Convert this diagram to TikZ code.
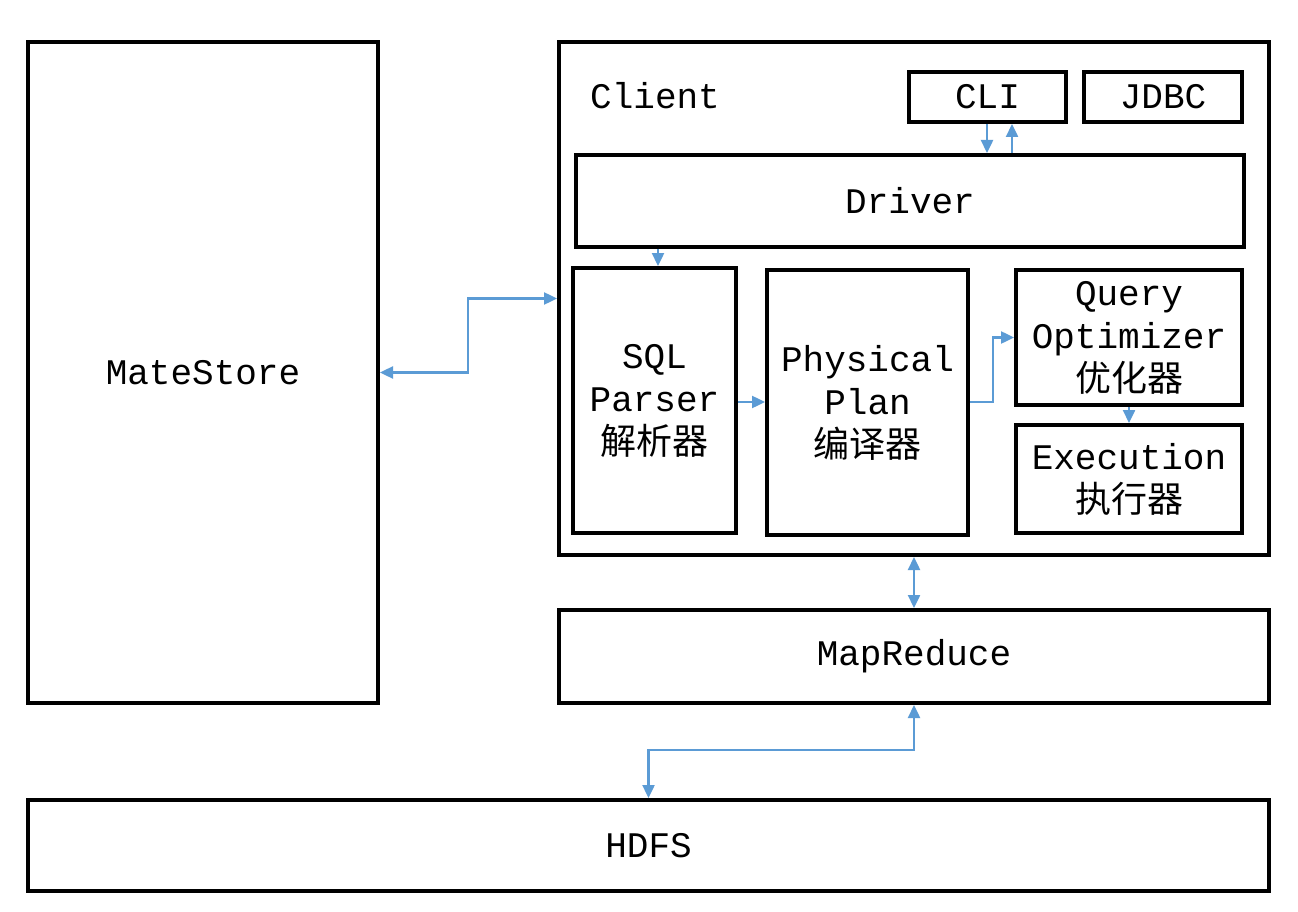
\documentclass[tikz,border=0pt]{standalone}
\usepackage{fontspec}
\newfontfamily\mono{Liberation Mono}
\newfontfamily\cjk{Noto Sans CJK SC}
\usetikzlibrary{arrows.meta}
\definecolor{arrblue}{RGB}{91,155,213}
\begin{document}
\begin{tikzpicture}[x=1pt,y=-1pt,
  box/.style={draw=black,line width=4pt,inner sep=0pt,align=center,
    font=\mono\fontsize{36}{43}\selectfont},
  lbl/.style={inner sep=0pt,font=\mono\fontsize{36}{43}\selectfont},
  arr/.style={draw=arrblue,line width=2.4pt,-{Triangle[length=13pt,width=12pt]}},
  darr/.style={draw=arrblue,line width=2.4pt,{Triangle[length=13pt,width=12pt]}-{Triangle[length=13pt,width=12pt]}}]
\useasboundingbox (0,0) rectangle (1298,912);
\fill[white] (0,0) rectangle (1298,912);
% boxes
\node[box,minimum width=350pt,minimum height=661pt] (MateStore) at (203,372.5) {MateStore};
\node[box,minimum width=710pt,minimum height=513pt] (Client) at (914,298.5) {};
\node[lbl,anchor=west] (ClientLabel) at (590,95.5) {Client};
\node[box,minimum width=157pt,minimum height=50pt] (CLI) at (987.5,97) {CLI};
\node[box,minimum width=158pt,minimum height=50pt] (JDBC) at (1163,97) {JDBC};
\node[box,minimum width=668pt,minimum height=92pt] (Driver) at (910,201) {Driver};
\node[box,minimum width=163pt,minimum height=265pt] (SQL) at (654.5,400.5) {SQL\\Parser\\{\cjk 解析器}};
\node[box,minimum width=201pt,minimum height=265pt] (Physical) at (867.5,402.5) {Physical\\Plan\\{\cjk 编译器}};
\node[box,minimum width=226pt,minimum height=135pt] (Query) at (1129,337.5) {Query\\Optimizer\\{\cjk 优化器}};
\node[box,minimum width=226pt,minimum height=108pt] (Execution) at (1129,479) {Execution\\{\cjk 执行器}};
\node[box,minimum width=710pt,minimum height=93pt] (MapReduce) at (914,656.5) {MapReduce};
\node[box,minimum width=1241pt,minimum height=91pt] (HDFS) at (648.5,845.5) {HDFS};
% helper coordinates
\coordinate (xdown) at (987,0);
\coordinate (xup) at (1012,0);
\coordinate (xsql) at (658,0);
\coordinate (ysp) at (0,402);
% connectors
\draw[arr] (CLI.south -| xdown) -- (Driver.north -| xdown);
\draw[arr] (Driver.north -| xup) -- (CLI.south -| xup);
\draw[arr] (Driver.south -| xsql) -- (SQL.north -| xsql);
\draw[darr] (MateStore.east) -- (468,372.5) |- (Client.west);
\draw[arr] (SQL.east |- ysp) -- (Physical.west |- ysp);
\draw[arr] (Physical.east |- ysp) -- (993,402) |- (Query.west);
\draw[arr] (Query.south) -- (Execution.north);
\draw[darr] (Client.south) -- (MapReduce.north);
\draw[darr] (MapReduce.south) -- (914,750) -| (HDFS.north);
\end{tikzpicture}
\end{document}
